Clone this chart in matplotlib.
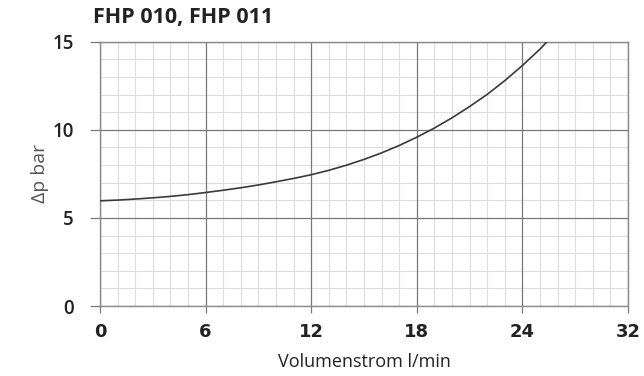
import matplotlib
matplotlib.use("Agg")
import matplotlib.pyplot as plt
from matplotlib.ticker import MultipleLocator, FixedLocator

# Data
flow = [0, 1, 2, 3, 4, 5, 6, 7, 8, 9, 10, 11, 12, 13, 14, 15, 16, 17, 18, 19,
        20, 21, 22, 23, 24, 25, 25.4]
dp = [5.97, 6.01, 6.07, 6.14, 6.22, 6.32, 6.44, 6.57, 6.71, 6.87, 7.05, 7.24, 7.45,
      7.70, 7.99, 8.32, 8.69, 9.11, 9.58, 10.10, 10.68, 11.32, 12.01, 12.79, 13.65,
      14.58, 15.0]
x_tick_pos = [0, 6, 12, 18, 24, 30]
x_tick_labels = ["0", "6", "12", "18", "24", "32"]
y_ticks = [0, 5, 10, 15]
y_tick_labels = ["0", "5", "10", "15"]

fig = plt.figure(figsize=(6.44, 3.76), dpi=100)
ax = fig.add_axes([100/644, 1-306/376, 528/644, (306-41.7)/376])

ax.set_xlim(0, 30)
ax.set_ylim(0, 15)

ax.xaxis.set_major_locator(FixedLocator(x_tick_pos))
ax.xaxis.set_minor_locator(MultipleLocator(1))
ax.yaxis.set_major_locator(FixedLocator(y_ticks))
ax.yaxis.set_minor_locator(MultipleLocator(1))

# light minor grid below, darker major grid lines above it
ax.grid(which="minor", color="#dedede", linewidth=0.8, linestyle="-")
ax.grid(which="major", visible=False)
ax.set_axisbelow(True)
for xv in x_tick_pos:
    ax.axvline(xv, color="#787878", linewidth=0.9, zorder=0.8)
for yv in y_ticks:
    ax.axhline(yv, color="#787878", linewidth=0.9, zorder=0.8)

for s in ax.spines.values():
    s.set_color("#8a8a8a")
    s.set_linewidth(1.0)

ax.plot(flow, dp, color="#3a3a3a", linewidth=1.2, solid_capstyle="butt",
        solid_joinstyle="round", zorder=3)

ax.set_xticklabels(x_tick_labels, fontfamily="DejaVu Sans", fontweight="bold",
                   fontsize=13, color="#222222")
ax.set_yticklabels(y_tick_labels, fontfamily="Open Sans", fontweight="semibold",
                   fontsize=13.5, color="#222222")

ax.tick_params(axis="x", which="major", length=5, width=0.9, color="#7a7a7a", pad=7)
ax.tick_params(axis="y", which="major", length=7, width=0.9, color="#7a7a7a", pad=12)
ax.tick_params(which="minor", length=0)

ax.set_xlabel("Volumenstrom l/min", fontfamily="Open Sans", fontsize=13, color="#222222",
              labelpad=9)
ax.set_ylabel("Δp bar", fontfamily="Open Sans", fontsize=14, color="#555555", labelpad=2)

fig.text(93/644, 1-17/376, "FHP 010, FHP 011", fontfamily="Open Sans", fontweight="bold",
         fontsize=15.5, color="#222222", ha="left", va="center")

fig.savefig("out.png", dpi=100)
